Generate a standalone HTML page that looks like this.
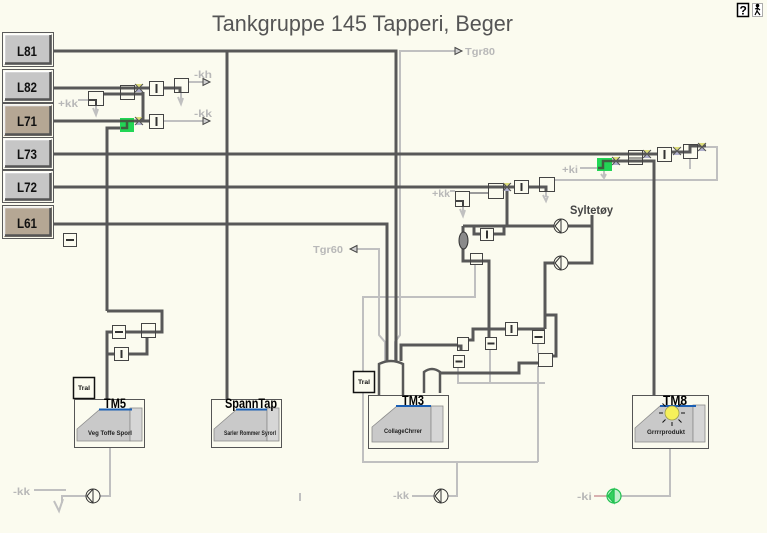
<!DOCTYPE html>
<html><head><meta charset="utf-8">
<style>
html,body{margin:0;padding:0;background:#fbfbef;}
svg{display:block;}
text{font-family:"Liberation Sans",sans-serif;}
</style></head><body>
<svg width="767" height="533" viewBox="0 0 767 533" xmlns="http://www.w3.org/2000/svg">
<rect width="767" height="533" fill="#fbfbef"/>

<!-- title -->
<text x="212" y="31" font-size="22" fill="#555" textLength="301" lengthAdjust="spacingAndGlyphs">Tankgruppe 145 Tapperi, Beger</text>

<!-- top-right icons -->
<rect x="737.5" y="3.5" width="11" height="13" fill="#fff" stroke="#000" stroke-width="1.5"/>
<text x="739.5" y="14.5" font-size="12" font-weight="bold" fill="#000">?</text>
<rect x="752.5" y="3.5" width="10" height="13" fill="#fff" stroke="#999" stroke-width="0.8"/>
<g stroke="#000" stroke-width="1.2" fill="none">
<circle cx="757.5" cy="5.5" r="1.2" fill="#000"/>
<path d="M757.5,7 L757,11 L755,15 M757,11 L760,15 M755,9 L757.5,8 L760,10"/>
</g>

<!-- buttons -->
<g>
<rect x="2.5" y="32.5" width="51" height="34" fill="none" stroke="#5a5a5a"/>
<rect x="4" y="34" width="48" height="31" fill="#c6c6c6"/>
<path d="M4.5,64 L4.5,34.5 L51,34.5" stroke="#fff" stroke-width="1.5" fill="none"/>
<path d="M5,63.5 L50.5,63.5 L50.5,35" stroke="#555" stroke-width="2.5" fill="none"/>
<text x="17" y="56" font-size="14" font-weight="bold" fill="#111" textLength="20" lengthAdjust="spacingAndGlyphs">L81</text>

<rect x="2.5" y="69.5" width="51" height="33" fill="none" stroke="#5a5a5a"/>
<rect x="4" y="71" width="48" height="30" fill="#c6c6c6"/>
<path d="M4.5,100 L4.5,71.5 L51,71.5" stroke="#fff" stroke-width="1.5" fill="none"/>
<path d="M5,99.5 L50.5,99.5 L50.5,72" stroke="#555" stroke-width="2.5" fill="none"/>
<text x="17" y="92" font-size="14" font-weight="bold" fill="#111" textLength="20" lengthAdjust="spacingAndGlyphs">L82</text>

<rect x="2.5" y="103.5" width="51" height="34" fill="none" stroke="#5a5a5a"/>
<rect x="4" y="105" width="48" height="31" fill="#b5a794"/>
<path d="M4.5,135 L4.5,105.5 L51,105.5" stroke="#eee" stroke-width="1.5" fill="none"/>
<path d="M5,134.5 L50.5,134.5 L50.5,106" stroke="#555" stroke-width="2.5" fill="none"/>
<text x="17" y="126" font-size="14" font-weight="bold" fill="#111" textLength="20" lengthAdjust="spacingAndGlyphs">L71</text>

<rect x="2.5" y="137.5" width="51" height="32" fill="none" stroke="#5a5a5a"/>
<rect x="4" y="139" width="48" height="29" fill="#c6c6c6"/>
<path d="M4.5,167 L4.5,139.5 L51,139.5" stroke="#fff" stroke-width="1.5" fill="none"/>
<path d="M5,166.5 L50.5,166.5 L50.5,140" stroke="#555" stroke-width="2.5" fill="none"/>
<text x="17" y="159" font-size="14" font-weight="bold" fill="#111" textLength="20" lengthAdjust="spacingAndGlyphs">L73</text>

<rect x="2.5" y="170.5" width="51" height="32" fill="none" stroke="#5a5a5a"/>
<rect x="4" y="172" width="48" height="29" fill="#c6c6c6"/>
<path d="M4.5,200 L4.5,172.5 L51,172.5" stroke="#fff" stroke-width="1.5" fill="none"/>
<path d="M5,199.5 L50.5,199.5 L50.5,173" stroke="#555" stroke-width="2.5" fill="none"/>
<text x="17" y="192" font-size="14" font-weight="bold" fill="#111" textLength="20" lengthAdjust="spacingAndGlyphs">L72</text>

<rect x="2.5" y="205.5" width="51" height="33" fill="none" stroke="#5a5a5a"/>
<rect x="4" y="207" width="48" height="30" fill="#b5a794"/>
<path d="M4.5,236 L4.5,207.5 L51,207.5" stroke="#eee" stroke-width="1.5" fill="none"/>
<path d="M5,235.5 L50.5,235.5 L50.5,208" stroke="#555" stroke-width="2.5" fill="none"/>
<text x="17" y="228" font-size="14" font-weight="bold" fill="#111" textLength="20" lengthAdjust="spacingAndGlyphs">L61</text>
</g>

<!-- small minus box under L61 -->
<rect x="63.5" y="233.5" width="13" height="13" fill="#fbfbef" stroke="#444"/>
<line x1="66" y1="240" x2="74" y2="240" stroke="#333" stroke-width="2"/>

<!-- LIGHT GRAY LINES -->
<g stroke="#c0c0c0" stroke-width="2" fill="none">
<path d="M455,51 L400,51 L400,335 L395,342 L395,361"/>
<path d="M357,249 L379,249 L379,335 L385,342 L385,361"/>
<path d="M475,264 L475,297 L363,297 L363,462 L538,462"/>
<path d="M538,366 L538,462"/>
<path d="M458,367 L458,383 L545,383"/>
<path d="M490,349 L490,383"/>
<path d="M538,343 L538,353"/>
<path d="M457,462 L457,496 L448,496"/>
<path d="M412,496 L435,496"/>
<path d="M110,447 L110,496 L100,496"/>
<path d="M86,496 L62,496 L62,503"/>
<path d="M54,501 L59,511 L63,499"/>
<path d="M34,490 L66,490"/>
<path d="M670,448 L670,496 L621,496"/>
<path d="M594,496 L607,496" stroke="#d8b0b0"/>
<path d="M189,82 L203,82"/>
<path d="M181,92 L181,102 M178,97 L181,104 L183,98"/>
<path d="M164,121 L203,121"/>
<path d="M78,100 L88,100"/>
<path d="M96,105 L96,112 M93,108 L96,115 L98,109"/>
<path d="M450,191 L455,191"/>
<path d="M463,206 L463,213 M460,209 L463,216 L465,210"/>
<path d="M554,180 L717,180 L717,147 L706,147"/>
<path d="M580,168 L597,168"/>
<path d="M604,171 L604,176 M601,174 L604,178 L606,174"/>
<path d="M690,158 L690,169"/>
<path d="M546,191 L546,197 M543,195 L546,201 L548,196"/>
<path d="M300,493 L300,501"/>
</g>
<path d="M469,193 L488,193" stroke="#9a9a9a" stroke-width="2" fill="none"/>

<!-- arrows -->
<g fill="#d0d0d0" stroke="#444" stroke-width="1">
<polygon points="455,47.5 462,51 455,54.5"/>
<polygon points="203,78.5 210,82 203,85.5"/>
<polygon points="203,117.5 210,121 203,124.5"/>
<polygon points="357,245.5 350,249 357,252.5"/>
</g>

<!-- gray labels -->
<g font-size="10" font-weight="bold" fill="#b8b8b8">
<text x="465" y="55" textLength="30" lengthAdjust="spacingAndGlyphs">Tgr80</text>
<text x="313" y="253" textLength="30" lengthAdjust="spacingAndGlyphs">Tgr60</text>
<text x="194" y="78" textLength="18" lengthAdjust="spacingAndGlyphs">-kh</text>
<text x="194" y="117" textLength="18" lengthAdjust="spacingAndGlyphs">-kk</text>
<text x="58" y="107" textLength="20" lengthAdjust="spacingAndGlyphs">+kk</text>
<text x="432" y="197" textLength="18" lengthAdjust="spacingAndGlyphs">+kk</text>
<text x="562" y="173" textLength="16" lengthAdjust="spacingAndGlyphs">+ki</text>
<text x="13" y="495" textLength="17" lengthAdjust="spacingAndGlyphs">-kk</text>
<text x="393" y="499" textLength="16" lengthAdjust="spacingAndGlyphs">-kk</text>
<text x="577" y="500" textLength="15" lengthAdjust="spacingAndGlyphs">-ki</text>
</g>

<!-- DARK LINES -->
<g stroke="#585858" stroke-width="3" fill="none" stroke-linejoin="miter">
<path d="M53,51 L396,51 L396,361"/>
<path d="M227,51 L227,399"/>
<path d="M53,224 L387,224 L387,361"/>
<!-- L82 -->
<path d="M53,88 L143,88"/>
<path d="M143,88 L149,88"/>
<path d="M163,88 L180,88 L180,92"/>
<path d="M103,94 L143,94"/>
<path d="M143,92 L143,121"/>
<!-- L71 -->
<path d="M53,121 L149,121"/>
<path d="M107,311 L107,128 L127,128 L127,121"/>
<!-- TM5 -->
<path d="M107,311 L162,311 L162,332 L141,332"/>
<path d="M141,332 L126,332"/>
<path d="M112,332 L107,332 L107,399"/>
<path d="M107,354 L114,354"/>
<path d="M129,354 L147,354 L147,337"/>
<!-- L73 -->
<path d="M53,154 L657,154"/>
<path d="M672,152 L683,152 L690,152 L690,146 L706,146"/>
<!-- +ki -->
<path d="M598,168 L603,168 L603,161 L620,161 L654,161 L654,395"/>
<!-- L72 -->
<path d="M53,187 L514,187"/>
<path d="M529,187 L546,187 L546,191"/>
<path d="M507,190 L507,226"/>
<path d="M463,226 L592,226"/>
<path d="M474,226 L474,234 L480,234"/>
<path d="M494,234 L504,234 L504,226"/>
<path d="M592,215 L592,263 L545,263 L545,329"/>
<path d="M545,315 L556,315 L556,356 L552,356"/>
<path d="M463,226 L463,232"/>
<path d="M463,249 L463,261 L489,261 L489,337"/>
<path d="M538,363 L519,363 L519,373 L440,373"/>
<path d="M401,361 L401,345 L457,345"/>
<path d="M457,346 L461,346 L461,350"/>
<path d="M468,340 L473,340 L473,329 L545,329"/>
</g>

<!-- boxes: I boxes -->
<g fill="#fbfbef" stroke="#444" stroke-width="1">
<rect x="149.5" y="81.5" width="14" height="14"/>
<rect x="149.5" y="114.5" width="14" height="14"/>
<rect x="657.5" y="147.5" width="14" height="14"/>
<rect x="514.5" y="180.5" width="14" height="13"/>
<rect x="480.5" y="228.5" width="13" height="12"/>
<rect x="505.5" y="322.5" width="12" height="13"/>
<rect x="114.5" y="347.5" width="14" height="13"/>
</g>
<g stroke="#333" stroke-width="2">
<line x1="156.5" y1="84" x2="156.5" y2="93"/>
<line x1="156.5" y1="117" x2="156.5" y2="126"/>
<line x1="664.5" y1="150" x2="664.5" y2="159"/>
<line x1="521.5" y1="183" x2="521.5" y2="191"/>
<line x1="487" y1="230.5" x2="487" y2="238.5"/>
<line x1="511.5" y1="325" x2="511.5" y2="333"/>
<line x1="121.5" y1="350" x2="121.5" y2="358"/>
</g>

<!-- minus boxes -->
<g fill="#fbfbef" stroke="#444" stroke-width="1">
<rect x="112.5" y="325.5" width="13" height="13"/>
<rect x="485.5" y="337.5" width="11" height="12"/>
<rect x="453.5" y="355.5" width="11" height="12"/>
<rect x="532.5" y="330.5" width="12" height="13"/>
</g>
<g stroke="#333" stroke-width="2">
<line x1="115" y1="332" x2="123" y2="332"/>
<line x1="487.5" y1="343.5" x2="494.5" y2="343.5"/>
<line x1="455.5" y1="361.5" x2="462.5" y2="361.5"/>
<line x1="534.5" y1="337" x2="542.5" y2="337"/>
</g>

<!-- outline boxes (lines pass through) -->
<g fill="none" stroke="#444" stroke-width="1">
<rect x="120.5" y="85.5" width="14" height="14"/>
<rect x="88.5" y="91.5" width="15" height="14"/>
<rect x="174.5" y="78.5" width="14" height="14"/>
<rect x="628.5" y="150.5" width="14" height="14"/>
<line x1="628.5" y1="158" x2="642.5" y2="158"/>
<rect x="683.5" y="144.5" width="14" height="14"/>
<rect x="488.5" y="183.5" width="15" height="15"/>
<rect x="539.5" y="177.5" width="15" height="14"/>
<rect x="455.5" y="191.5" width="14" height="15"/>
<rect x="470.5" y="253.5" width="12" height="11"/>
<rect x="457.5" y="337.5" width="11" height="13"/>
<rect x="538.5" y="353.5" width="14" height="13"/>
<rect x="141.5" y="323.5" width="14" height="14"/>
</g>
<g stroke="#444" stroke-width="2" fill="none">
<path d="M89,100 L96,100 L96,105"/>
<path d="M456,201 L463,201 L463,206"/>
</g>

<!-- green boxes -->
<rect x="120" y="118" width="14" height="14" fill="#22d655"/>
<rect x="597" y="158" width="15" height="13" fill="#22d655"/>
<g stroke="#3f5f3f" stroke-width="2.5" fill="none">
<path d="M120,121 L134,121"/>
<path d="M121,128 L127,128 L127,121"/>
<path d="M598,168 L603,168 L603,161 L612,161"/>
</g>

<!-- valves -->
<g>
<g transform="translate(135,84)"><polygon points="0,0 8,0 4,4" fill="#dede7a"/><polygon points="4,4 0,8 8,8" fill="#b0b0cc"/><path d="M0,0 L8,8 M8,0 L0,8" stroke="#555" stroke-width="1"/></g>
<g transform="translate(135,117)"><polygon points="0,0 8,0 4,4" fill="#dede7a"/><polygon points="4,4 0,8 8,8" fill="#b0b0cc"/><path d="M0,0 L8,8 M8,0 L0,8" stroke="#555" stroke-width="1"/></g>
<g transform="translate(643,150)"><polygon points="0,0 8,0 4,4" fill="#dede7a"/><polygon points="4,4 0,8 8,8" fill="#b0b0cc"/><path d="M0,0 L8,8 M8,0 L0,8" stroke="#555" stroke-width="1"/></g>
<g transform="translate(673,147)"><polygon points="0,0 8,0 4,4" fill="#dede7a"/><polygon points="4,4 0,8 8,8" fill="#b0b0cc"/><path d="M0,0 L8,8 M8,0 L0,8" stroke="#555" stroke-width="1"/></g>
<g transform="translate(698,143)"><polygon points="0,0 8,0 4,4" fill="#dede7a"/><polygon points="4,4 0,8 8,8" fill="#b0b0cc"/><path d="M0,0 L8,8 M8,0 L0,8" stroke="#555" stroke-width="1"/></g>
<g transform="translate(612,157)"><polygon points="0,0 8,0 4,4" fill="#dede7a"/><polygon points="4,4 0,8 8,8" fill="#b0b0cc"/><path d="M0,0 L8,8 M8,0 L0,8" stroke="#555" stroke-width="1"/></g>
<g transform="translate(503,183)"><polygon points="0,0 8,0 4,4" fill="#dede7a"/><polygon points="4,4 0,8 8,8" fill="#b0b0cc"/><path d="M0,0 L8,8 M8,0 L0,8" stroke="#555" stroke-width="1"/></g>
</g>

<!-- gray oval -->
<ellipse cx="463.5" cy="240.5" rx="4.5" ry="8.5" fill="#8a8a8a" stroke="#333" stroke-width="1"/>

<!-- pumps -->
<g fill="#fbfbef" stroke="#333" stroke-width="1">
<circle cx="561" cy="226" r="7"/><path d="M555,226 L561,219 M555,226 L561,233 M561,219 L561,233" fill="none"/>
<circle cx="561" cy="263" r="7"/><path d="M555,263 L561,256 M555,263 L561,270 M561,256 L561,270" fill="none"/>
<circle cx="93" cy="496" r="7"/><path d="M87,496 L93,489 M87,496 L93,503 M93,489 L93,503" fill="none"/>
<circle cx="441" cy="496" r="7"/><path d="M435,496 L441,489 M435,496 L441,503 M441,489 L441,503" fill="none"/>
</g>
<g stroke="#22c050" stroke-width="1.2">
<circle cx="614" cy="496" r="7" fill="#bff0cc"/>
<path d="M608,496 L614,489 M608,496 L614,503 M614,489 L614,503" fill="none"/>
<path d="M608,496 L614,489 L614,503 Z" fill="#33d060"/>
</g>

<!-- Syltetøy -->
<text x="570" y="214" font-size="12" font-weight="bold" fill="#444" textLength="43" lengthAdjust="spacingAndGlyphs">Syltetøy</text>

<!-- cylinders -->
<g stroke="#585858" stroke-width="2.5" fill="#fbfbef">
<path d="M379,395 L379,364 Q391,358 403,364 L403,395"/>
<path d="M424,393 L424,372 Q432,366 440,372 L440,393"/>
</g>

<!-- Tral boxes -->
<g fill="#fbfbef" stroke="#111" stroke-width="1.5">
<rect x="73.5" y="377.5" width="21" height="21"/>
<rect x="353.5" y="371.5" width="21" height="21"/>
</g>
<g font-size="6" font-weight="bold" fill="#111">
<text x="78" y="390" textLength="12" lengthAdjust="spacingAndGlyphs">Tral</text>
<text x="358" y="384" textLength="12" lengthAdjust="spacingAndGlyphs">Tral</text>
</g>

<!-- TANKS -->
<!-- TM5 -->
<rect x="74.5" y="399.5" width="70" height="48" fill="#fbfbef" stroke="#555"/>
<polygon points="77,429 99,410 130,410 130,441 77,441" fill="#c9c9c9" stroke="#8a8a8a" stroke-width="0.8"/>
<rect x="130" y="408" width="12" height="33" fill="#d6d6d6" stroke="#8a8a8a" stroke-width="0.8"/>
<line x1="99" y1="409.5" x2="132" y2="409.5" stroke="#1a5fb4" stroke-width="2"/>
<text x="104" y="408" font-size="14" font-weight="bold" fill="#000" textLength="22" lengthAdjust="spacingAndGlyphs">TM5</text>
<text x="88" y="435" font-size="6" font-weight="bold" fill="#222" textLength="44" lengthAdjust="spacingAndGlyphs">Veg Toffe Sporl</text>

<!-- SpannTap -->
<rect x="211.5" y="399.5" width="70" height="48" fill="#fbfbef" stroke="#555"/>
<polygon points="214,429 236,410 267,410 267,441 214,441" fill="#c9c9c9" stroke="#8a8a8a" stroke-width="0.8"/>
<rect x="267" y="408" width="12" height="33" fill="#d6d6d6" stroke="#8a8a8a" stroke-width="0.8"/>
<line x1="236" y1="409.5" x2="267" y2="409.5" stroke="#1a5fb4" stroke-width="2"/>
<text x="225" y="408" font-size="14" font-weight="bold" fill="#000" textLength="52" lengthAdjust="spacingAndGlyphs">SpannTap</text>
<text x="224" y="435" font-size="6" font-weight="bold" fill="#222" textLength="52" lengthAdjust="spacingAndGlyphs">Sarler Rommer Syrorl</text>

<!-- TM3 -->
<rect x="368.5" y="395.5" width="80" height="53" fill="#fbfbef" stroke="#555"/>
<polygon points="372,427 397,406 431,406 431,442 372,442" fill="#c9c9c9" stroke="#8a8a8a" stroke-width="0.8"/>
<rect x="431" y="406" width="12" height="36" fill="#d6d6d6" stroke="#8a8a8a" stroke-width="0.8"/>
<line x1="396" y1="406" x2="431" y2="406" stroke="#1a5fb4" stroke-width="2"/>
<text x="402" y="405" font-size="14" font-weight="bold" fill="#000" textLength="22" lengthAdjust="spacingAndGlyphs">TM3</text>
<text x="384" y="433" font-size="6" font-weight="bold" fill="#222" textLength="38" lengthAdjust="spacingAndGlyphs">CollageChrrer</text>

<!-- TM8 -->
<rect x="632.5" y="395.5" width="76" height="53" fill="#fbfbef" stroke="#555"/>
<polygon points="635,428 660,406 693,406 693,442 635,442" fill="#c9c9c9" stroke="#8a8a8a" stroke-width="0.8"/>
<rect x="693" y="405" width="12" height="37" fill="#d6d6d6" stroke="#8a8a8a" stroke-width="0.8"/>
<line x1="660" y1="406" x2="696" y2="406" stroke="#1a5fb4" stroke-width="2"/>
<text x="663" y="405" font-size="14" font-weight="bold" fill="#000" textLength="24" lengthAdjust="spacingAndGlyphs">TM8</text>
<g stroke="#111" stroke-width="1">
<line x1="672" y1="404" x2="672" y2="400"/>
<line x1="672" y1="422" x2="672" y2="426"/>
<line x1="663" y1="413" x2="659" y2="413"/>
<line x1="681" y1="413" x2="685" y2="413"/>
<line x1="665.5" y1="406.5" x2="662.5" y2="403.5"/>
<line x1="678.5" y1="406.5" x2="681.5" y2="403.5"/>
<line x1="665.5" y1="419.5" x2="662.5" y2="422.5"/>
<line x1="678.5" y1="419.5" x2="681.5" y2="422.5"/>
</g>
<circle cx="672" cy="413" r="7" fill="#f6f05a" stroke="#9a9a50" stroke-width="0.8"/>
<text x="647" y="434" font-size="6" font-weight="bold" fill="#222" textLength="38" lengthAdjust="spacingAndGlyphs">Grrrrprodukt</text>

</svg>
</body></html>
